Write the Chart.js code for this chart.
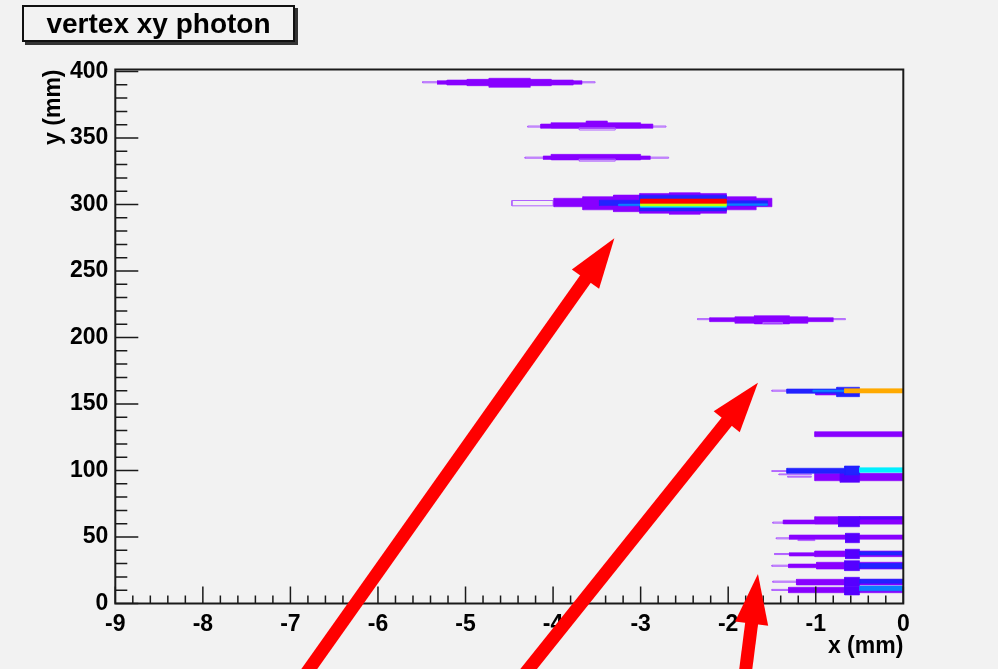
<!DOCTYPE html>
<html lang="en">
<head>
<meta charset="utf-8"/>
<title>vertex xy photon</title>
<style>
  body { margin: 0; background: #fff; }
  #wrap { position: relative; width: 1006px; height: 669px; }
  canvas { display: block; }
  #title { position: absolute; left: 22px; top: 5px; width: 269px; height: 33px; border: 2px solid #111;
           box-shadow: 3px 3px 0 #333; background: #f2f2f2; color: #000; text-align: center;
           font: bold 28px "Liberation Sans", Arial, sans-serif; line-height: 33px; }
</style>
</head>
<body>
<div id="wrap">
<canvas id="chart" width="1006" height="669"></canvas>
<div id="title">vertex xy photon</div>
</div>
<script src="https://cdn.jsdelivr.net/npm/chart.js@4"></script>
<script>
const xMin = -9, xMax = 0;
const yMin = 0, yMax = 401.5;
const xTicks = [-9, -8, -7, -6, -5, -4, -3, -2, -1, 0];
const yTicks = [0, 50, 100, 150, 200, 250, 300, 350, 400];

// contour bands: [x0, x1, y0, y1, level]  (mm)
const blob392 = [
  [-5.49, -3.52, 391.5, 392.3, 0],
  [-5.32, -3.67, 390.4, 393.1, 1],
  [-5.21, -3.77, 389.8, 393.6, 1],
  [-4.98, -4.02, 389.3, 394.1, 1],
  [-4.73, -4.26, 388.1, 394.9, 1]
];
const blob360 = [
  [-4.29, -2.71, 358.2, 359.0, 0],
  [-4.14, -2.86, 357.3, 360.5, 1],
  [-4.02, -3.00, 357.5, 361.5, 1],
  [-3.62, -3.38, 360.5, 362.8, 1],
  [-3.70, -3.29, 356.0, 357.6, 0]
];
const blob335 = [
  [-4.32, -2.68, 334.8, 335.6, 0],
  [-4.11, -2.89, 333.9, 336.5, 1],
  [-4.02, -3.00, 333.5, 337.7, 1],
  [-3.70, -3.29, 332.6, 334.1, 0]
];
const blob301 = [
  [-4.47, -4.00, 299.0, 303.0, 0],
  [-3.99, -1.50, 298.3, 304.7, 1],
  [-3.66, -1.68, 296.0, 305.9, 1],
  [-3.31, -2.02, 294.6, 307.1, 1],
  [-3.01, -2.02, 293.4, 308.3, 1],
  [-2.67, -2.32, 292.6, 308.9, 1],
  [-3.47, -3.01, 299.2, 303.2, 3],
  [-3.01, -2.02, 295.2, 307.0, 3],
  [-2.02, -1.55, 299.0, 302.8, 3],
  [-3.25, -3.00, 299.0, 300.3, 4],
  [-2.02, -1.55, 299.3, 300.5, 4],
  [-3.00, -2.02, 297.9, 298.9, 5],
  [-3.00, -2.02, 298.9, 300.9, 6],
  [-3.00, -2.02, 300.9, 304.1, 8]
];
const blob214 = [
  [-2.35, -0.66, 213.4, 214.2, 0],
  [-2.21, -0.80, 211.9, 214.9, 1],
  [-1.92, -1.09, 210.7, 215.6, 1],
  [-1.70, -1.30, 210.2, 216.4, 1],
  [-1.60, -1.38, 210.3, 211.3, 0]
];
const blob160 = [
  [-1.50, -0.50, 159.6, 160.4, 0],
  [-1.00, -0.73, 156.8, 158.3, 1],
  [-1.33, -0.50, 158.0, 161.3, 3],
  [-0.76, -0.50, 155.5, 162.6, 3],
  [-1.03, -0.65, 159.2, 160.5, 4],
  [-0.67, 0.00, 158.3, 161.5, 7]
];
const blob127 = [
  [-1.01, 0.00, 125.4, 129.2, 1]
];
const blob98 = [
  [-1.50, -0.99, 99.3, 99.9, 0],
  [-1.42, -1.05, 96.8, 97.4, 0],
  [-1.32, -1.05, 95.0, 95.6, 0],
  [-1.01, 0.00, 92.3, 97.9, 1],
  [-0.72, -0.50, 91.1, 97.9, 2],
  [-1.33, -0.50, 97.9, 101.7, 3],
  [-0.67, -0.50, 96.6, 103.4, 3],
  [-0.50, 0.00, 98.6, 102.1, 5]
];
const blob62 = [
  [-1.49, -1.24, 60.4, 61.2, 0],
  [-1.37, 0.00, 59.8, 62.8, 1],
  [-1.01, 0.00, 59.8, 65.3, 1],
  [-0.74, -0.50, 57.7, 65.3, 2],
  [-0.50, 0.00, 63.3, 65.3, 2]
];
const blob50 = [
  [-1.45, -1.01, 48.6, 49.4, 0],
  [-1.20, -1.01, 47.3, 48.1, 0],
  [-1.30, 0.00, 48.3, 51.5, 1],
  [-0.66, -0.50, 45.7, 52.8, 2]
];
const blob37 = [
  [-1.47, -1.30, 36.8, 37.6, 0],
  [-1.30, -1.01, 35.7, 38.2, 1],
  [-1.01, 0.00, 35.2, 39.5, 1],
  [-0.66, -0.50, 33.7, 40.8, 2],
  [-0.50, 0.00, 36.5, 38.9, 3]
];
const blob28 = [
  [-1.50, -1.31, 28.0, 28.8, 0],
  [-1.31, -0.99, 26.9, 29.7, 1],
  [-0.99, 0.00, 25.9, 31.0, 1],
  [-0.67, -0.50, 24.7, 32.2, 2],
  [-0.50, 0.00, 26.5, 30.2, 3]
];
const blob16 = [
  [-1.49, -1.22, 16.0, 16.8, 0],
  [-1.22, 0.00, 13.9, 18.2, 1],
  [-0.67, -0.50, 12.6, 19.7, 2],
  [-0.50, 0.00, 15.2, 18.2, 3]
];
const blob11 = [
  [-1.50, -1.31, 9.8, 10.6, 0],
  [-1.31, 0.00, 8.1, 12.2, 1],
  [-0.67, -0.50, 6.4, 12.6, 2],
  [-0.50, 0.00, 9.6, 13.2, 4]
];

// red arrows drawn on top (tip / tail in mm)
const arrowTipX = [-3.30, -1.66, -1.66];
const arrowTipY = [274.6, 166.0, 22.2];
const arrowTailX = [-6.90, -4.41, -1.82];
const arrowTailY = [-60, -60, -60];

const blobs = [blob392, blob360, blob335, blob301, blob214, blob160, blob127, blob98, blob62, blob50, blob37, blob28, blob16, blob11];
const levelColors = ['#b060ff', '#8800ff', '#5500ff', '#2222ff', '#0a80ff', '#00f0ff', '#c8ff00', '#ffaa00', '#ff0000'];

const datasets = [];
blobs.forEach(blob => blob.forEach(([x0, x1, y0, y1, lv]) => {
  const outline = lv === 0;
  datasets.push({
    data: [{x: x0, y: y0}, {x: x1, y: y0}, {x: x1, y: y1}, {x: x0, y: y1}, {x: x0, y: y0}],
    borderColor: levelColors[lv],
    backgroundColor: levelColors[lv],
    borderWidth: outline ? 1 : 0.6,
    fill: outline ? false : 'shape',
    pointRadius: 0,
    tension: 0,
    order: -datasets.length
  });
}));

const font = {family: '"Liberation Sans", Arial, sans-serif', size: 23, weight: 'bold'};

const background = {
  id: 'background',
  beforeDraw(chart) {
    const ctx = chart.ctx;
    ctx.save();
    ctx.fillStyle = '#fff';
    ctx.fillRect(0, 0, chart.width, chart.height);
    ctx.fillStyle = '#f2f2f2';
    ctx.fillRect(0, 0, 998, chart.height);
    ctx.restore();
  }
};

// ROOT style frame with ticks pointing inwards
const frame = {
  id: 'frame',
  afterDatasetsDraw(chart) {
    const {ctx, chartArea: a, scales: {x, y}} = chart;
    ctx.save();
    ctx.strokeStyle = '#1a1a1a';
    ctx.lineWidth = 1.5;
    ctx.beginPath();
    for (let i = 0; i <= (xMax - xMin) * 5; i++) {
      const v = xMin + i * 0.2;
      const px = x.getPixelForValue(v);
      ctx.moveTo(px, a.bottom);
      ctx.lineTo(px, a.bottom - (i % 5 === 0 ? 17 : 8));
    }
    for (let v = 0; v <= 400; v += 10) {
      const py = y.getPixelForValue(v);
      ctx.moveTo(a.left, py);
      ctx.lineTo(a.left + (v % 50 === 0 ? 23 : 12), py);
    }
    ctx.stroke();
    ctx.lineWidth = 2;
    ctx.strokeRect(a.left, a.top, a.right - a.left, a.bottom - a.top);
    ctx.restore();
  }
};

const arrows = {
  id: 'arrows',
  afterDraw(chart) {
    const {ctx, scales: {x, y}} = chart;
    ctx.save();
    ctx.fillStyle = '#ff0000';
    ctx.strokeStyle = '#ff0000';
    arrowTipX.forEach((tx, i) => {
      const px = x.getPixelForValue(tx), py = y.getPixelForValue(arrowTipY[i]);
      const qx = x.getPixelForValue(arrowTailX[i]), qy = y.getPixelForValue(arrowTailY[i]);
      const len = Math.hypot(px - qx, py - qy);
      const ux = (px - qx) / len, uy = (py - qy) / len;
      const bx = px - ux * 50, by = py - uy * 50;
      ctx.lineWidth = 13;
      ctx.beginPath();
      ctx.moveTo(qx, qy);
      ctx.lineTo(bx + ux * 4, by + uy * 4);
      ctx.stroke();
      ctx.beginPath();
      ctx.moveTo(px, py);
      ctx.lineTo(bx - uy * 16.7, by + ux * 16.7);
      ctx.lineTo(bx + uy * 16.7, by - ux * 16.7);
      ctx.closePath();
      ctx.fill();
    });
    ctx.restore();
  }
};

new Chart(document.getElementById('chart'), {
  type: 'line',
  data: { datasets },
  options: {
    responsive: false,
    animation: false,
    devicePixelRatio: 1,
    layout: { padding: { left: 0, top: 69.5, right: 102.7, bottom: 0 } },
    plugins: { legend: { display: false }, tooltip: { enabled: false }, title: { display: false } },
    scales: {
      x: {
        type: 'linear', min: xMin, max: xMax,
        afterBuildTicks: s => { s.ticks = xTicks.map(v => ({ value: v })); },
        afterFit: s => { s.height = 65.5; },
        grid: { display: false, drawTicks: false }, border: { display: false },
        ticks: { color: '#000', font, padding: 7, maxRotation: 0, autoSkip: false, callback: v => String(v) },
        title: { display: true, text: 'x (mm)', align: 'end', color: '#000', font, padding: { top: 0, bottom: 9 } }
      },
      y: {
        type: 'linear', min: yMin, max: yMax,
        afterBuildTicks: s => { s.ticks = yTicks.map(v => ({ value: v })); },
        afterFit: s => { s.width = 115.3; },
        grid: { display: false, drawTicks: false }, border: { display: false },
        ticks: { color: '#000', font, padding: 7, autoSkip: false, callback: v => String(v) },
        title: { display: true, text: 'y (mm)', align: 'end', color: '#000', font, padding: { top: 40, bottom: 0 } }
      }
    }
  },
  plugins: [background, frame, arrows]
});
</script>
</body>
</html>
